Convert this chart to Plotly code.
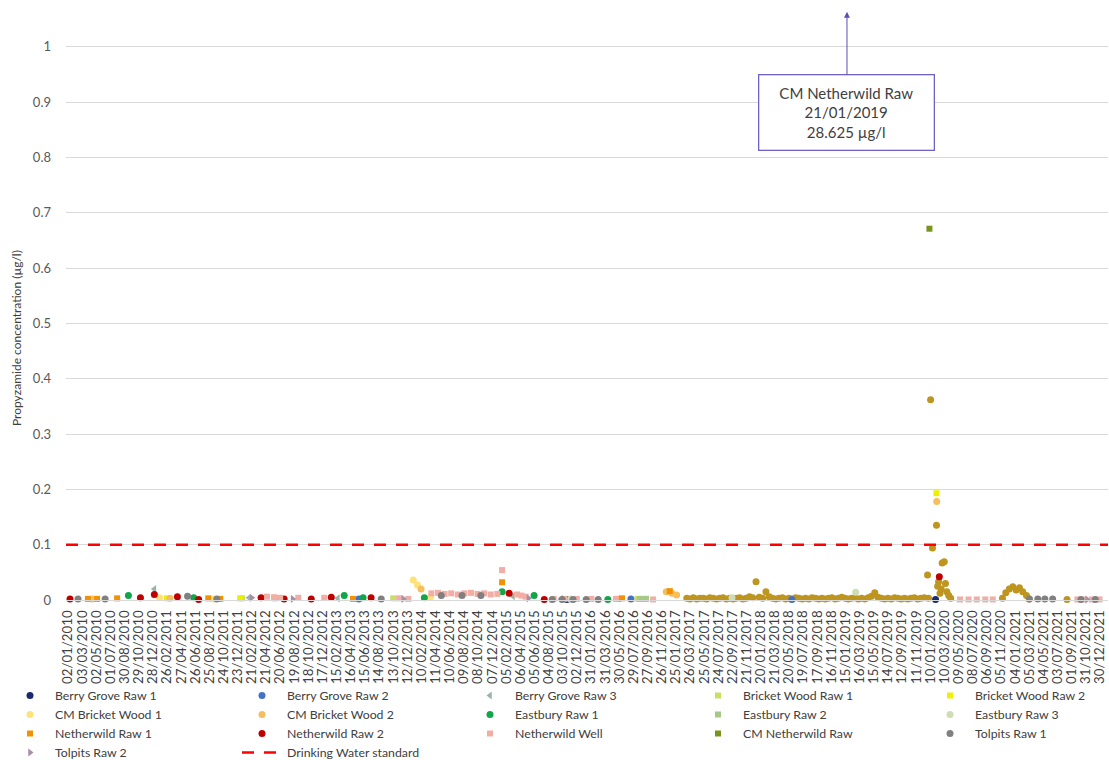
import pandas as pd
import plotly.graph_objects as go

# ---------------------------------------------------------------- axis setup
X_START = "2009-12-24"
X_END = "2022-02-02"
TICK0 = "2010-01-02"
TICK_STEP_DAYS = 60
Y_MAX = 1.05
Y_TICKS = [0, 0.1, 0.2, 0.3, 0.4, 0.5, 0.6, 0.7, 0.8, 0.9, 1]
Y_TICK_TEXT = ["0", "0.1", "0.2", "0.3", "0.4", "0.5", "0.6", "0.7", "0.8", "0.9", "1"]
Y_TITLE = "Propyzamide concentration (µg/l)"
STANDARD_LIMIT = 0.1  # µg/l

# ---------------------------------------------------------------- sample data (µg/l)
berry_grove_raw_1_dates = ["2015-10-20", "2020-02-01"]
berry_grove_raw_1_values = [0.001, 0.001]

berry_grove_raw_2_dates = ["2013-05-20", "2016-07-18", "2018-06-01"]
berry_grove_raw_2_values = [0.002, 0.002, 0.001]

berry_grove_raw_3_dates = ["2011-01-03", "2012-02-09", "2013-02-20", "2015-03-05", "2015-09-25"]
berry_grove_raw_3_values = [0.020, 0.004, 0.003, 0.007, 0.002]

bricket_wood_raw_1_dates = ["2012-01-10", "2013-10-13", "2016-08-15", "2016-09-07"]
bricket_wood_raw_1_values = [0.003, 0.003, 0.002, 0.002]

bricket_wood_raw_2_dates = ["2011-02-25", "2012-01-02", "2020-02-05"]
bricket_wood_raw_2_values = [0.003, 0.003, 0.193]

cm_bricket_wood_1_dates = ["2011-01-25", "2011-09-10", "2014-01-06", "2014-01-24", "2014-03-20"]
cm_bricket_wood_1_values = [0.004, 0.002, 0.036, 0.027, 0.005]

cm_bricket_wood_2_dates = ["2010-04-15", "2011-03-10", "2014-02-08", "2016-12-15",
                           "2017-01-08", "2017-01-28", "2020-02-06"]
cm_bricket_wood_2_values = [0.002, 0.003, 0.020, 0.015, 0.012, 0.009, 0.178]

eastbury_raw_1_dates = ["2010-09-15", "2011-06-19", "2013-03-19", "2013-06-07",
                        "2014-02-22", "2015-01-18", "2015-06-03", "2016-04-11"]
eastbury_raw_1_values = [0.008, 0.004, 0.008, 0.004, 0.004, 0.015, 0.008, 0.001]

eastbury_raw_2_dates = ["2012-05-30", "2016-08-25", "2016-09-20"]
eastbury_raw_2_values = [0.003, 0.002, 0.002]

eastbury_raw_3_dates = ["2015-11-05", "2017-09-20", "2019-02-27"]
eastbury_raw_3_values = [0.002, 0.004, 0.014]

netherwild_raw_1_dates = ["2010-03-27", "2010-05-05", "2010-07-29", "2011-08-20", "2011-10-10",
                          "2013-04-25", "2015-01-18", "2016-05-25", "2016-06-10", "2016-12-30"]
netherwild_raw_1_values = [0.002, 0.002, 0.003, 0.003, 0.002, 0.002, 0.032, 0.002, 0.003, 0.016]

netherwild_raw_2_dates = ["2010-01-10", "2010-11-05", "2011-01-03", "2011-04-11", "2011-07-10",
                          "2012-03-31", "2012-07-07", "2012-10-30", "2013-01-23", "2013-07-11",
                          "2015-02-17", "2015-07-16", "2020-02-17"]
netherwild_raw_2_values = [0.002, 0.004, 0.010, 0.006, 0.001, 0.004, 0.002, 0.002, 0.005, 0.004,
                           0.012, 0.001, 0.042]

netherwild_well_dates = ["2012-04-25", "2012-05-25", "2012-06-20", "2012-09-05", "2012-12-24",
                         "2013-11-07", "2013-12-16", "2014-03-24", "2014-04-21", "2014-05-19",
                         "2014-06-16", "2014-07-14", "2014-08-11", "2014-09-08", "2014-10-06",
                         "2014-11-03", "2014-12-01", "2014-12-29", "2015-01-18", "2015-03-23",
                         "2015-04-10", "2015-04-28", "2015-08-25", "2015-10-10", "2015-12-01",
                         "2016-02-01", "2016-05-15", "2016-10-20", "2020-05-15", "2020-06-20",
                         "2020-07-25", "2020-08-30", "2020-10-01", "2021-09-25", "2021-10-25",
                         "2021-11-25", "2021-12-28"]
netherwild_well_values = [0.006, 0.005, 0.004, 0.004, 0.004,
                          0.003, 0.002, 0.012, 0.013, 0.011,
                          0.012, 0.010, 0.012, 0.013, 0.011,
                          0.012, 0.010, 0.011, 0.054, 0.010,
                          0.008, 0.006, 0.002, 0.002, 0.002,
                          0.002, 0.002, 0.001, 0.001, 0.001,
                          0.001, 0.001, 0.001, 0.001, 0.001,
                          0.001, 0.001]

cm_netherwild_raw_dates = ["2020-01-06"]
cm_netherwild_raw_values = [0.671]

# CM Netherwild Raw routine fortnightly sampling, then additional samples
cm_netherwild_routine_start = "2017-03-12"
cm_netherwild_routine_values = [
    0.003, 0.002, 0.004, 0.002, 0.003, 0.003, 0.002, 0.004, 0.003, 0.002,
    0.003, 0.004, 0.002, 0.003, 0.002, 0.003, 0.004, 0.002, 0.003, 0.006,
    0.004, 0.033, 0.005, 0.003, 0.015, 0.006, 0.003, 0.002, 0.003, 0.004,
    0.002, 0.003, 0.002, 0.004, 0.003, 0.002, 0.003, 0.002, 0.004, 0.003,
    0.002, 0.003, 0.002, 0.003, 0.004, 0.002, 0.003, 0.005, 0.003, 0.002,
    0.003, 0.004, 0.002, 0.003, 0.002, 0.004, 0.007, 0.013, 0.005, 0.003,
    0.002, 0.003, 0.002, 0.004, 0.003, 0.002, 0.003, 0.002, 0.003, 0.004,
    0.002, 0.003, 0.004]
cm_netherwild_extra_dates = ["2019-12-29", "2020-01-02", "2020-01-11", "2020-01-19", "2020-02-05",
                             "2020-02-10", "2020-02-14", "2020-02-20", "2020-02-25", "2020-02-29",
                             "2020-03-09", "2020-03-14", "2020-03-20", "2020-03-28", "2020-04-05",
                             "2020-11-11", "2020-11-25", "2020-12-10", "2020-12-25", "2021-01-08",
                             "2021-01-22", "2021-02-05", "2021-02-21", "2021-03-05", "2021-08-12"]
cm_netherwild_extra_values = [0.045, 0.003, 0.362, 0.094, 0.135,
                              0.025, 0.033, 0.012, 0.020, 0.067,
                              0.069, 0.030, 0.015, 0.008, 0.003,
                              0.003, 0.013, 0.020, 0.024, 0.018,
                              0.022, 0.015, 0.008, 0.002, 0.001]

tolpits_raw_1_dates = ["2010-02-13", "2010-06-08", "2011-05-24", "2011-09-25", "2013-08-23",
                       "2014-05-05", "2014-08-01", "2014-10-20", "2015-08-19", "2015-09-30",
                       "2015-11-15", "2016-01-10", "2016-03-01", "2021-03-05", "2021-04-10",
                       "2021-05-10", "2021-06-12", "2021-10-10", "2021-12-10"]
tolpits_raw_1_values = [0.002, 0.002, 0.007, 0.002, 0.002,
                        0.008, 0.008, 0.008, 0.001, 0.001,
                        0.001, 0.001, 0.001, 0.002, 0.002,
                        0.002, 0.002, 0.001, 0.001]

tolpits_raw_2_dates = ["2012-02-20", "2012-08-12", "2013-11-25", "2015-05-10", "2021-11-05"]
tolpits_raw_2_values = [0.004, 0.002, 0.002, 0.003, 0.001]

# off-scale result called out in the text box
off_scale_site = "CM Netherwild Raw"
off_scale_date = "2019-01-21"
off_scale_value = 28.625

# ---------------------------------------------------------------- styling
FONT = "Lato"
TEXT = "#404040"
AXIS_TEXT = "#595959"
GRID = "#D9D9D9"

routine_dates = pd.date_range(cm_netherwild_routine_start,
                              periods=len(cm_netherwild_routine_values), freq="14D")
band_dates = list(routine_dates.strftime("%Y-%m-%d")) + cm_netherwild_extra_dates
band_values = cm_netherwild_routine_values + cm_netherwild_extra_values

# name, dates, values, colour, symbol, marker size, legend column
series = [
    ("Berry Grove Raw 1", berry_grove_raw_1_dates, berry_grove_raw_1_values, "#1B2A6B", "circle", 7, "legend"),
    ("Berry Grove Raw 2", berry_grove_raw_2_dates, berry_grove_raw_2_values, "#4472C4", "circle", 7, "legend2"),
    ("Berry Grove Raw 3", berry_grove_raw_3_dates, berry_grove_raw_3_values, "#98B4A6", "triangle-left", 7, "legend3"),
    ("Bricket Wood Raw 1", bricket_wood_raw_1_dates, bricket_wood_raw_1_values, "#C8E05E", "square", 6, "legend4"),
    ("Bricket Wood Raw 2", bricket_wood_raw_2_dates, bricket_wood_raw_2_values, "#EEF000", "square", 6, "legend5"),
    ("CM Bricket Wood 1", cm_bricket_wood_1_dates, cm_bricket_wood_1_values, "#FFE27A", "circle", 7, "legend"),
    ("CM Bricket Wood 2", cm_bricket_wood_2_dates, cm_bricket_wood_2_values, "#F7BE5E", "circle", 7, "legend2"),
    ("Eastbury Raw 1", eastbury_raw_1_dates, eastbury_raw_1_values, "#12A64B", "circle", 7, "legend3"),
    ("Eastbury Raw 2", eastbury_raw_2_dates, eastbury_raw_2_values, "#A6C98A", "square", 6, "legend4"),
    ("Eastbury Raw 3", eastbury_raw_3_dates, eastbury_raw_3_values, "#CFDDB5", "circle", 7, "legend5"),
    ("Netherwild Raw 1", netherwild_raw_1_dates, netherwild_raw_1_values, "#F39200", "square", 6, "legend"),
    ("Netherwild Raw 2", netherwild_raw_2_dates, netherwild_raw_2_values, "#C00000", "circle", 7, "legend2"),
    ("Netherwild Well", netherwild_well_dates, netherwild_well_values, "#F2ADA4", "square", 6, "legend3"),
    ("CM Netherwild Raw", cm_netherwild_raw_dates, cm_netherwild_raw_values, "#76951A", "square", 6, "legend4"),
    ("Tolpits Raw 1", tolpits_raw_1_dates, tolpits_raw_1_values, "#808080", "circle", 7, "legend5"),
    ("Tolpits Raw 2", tolpits_raw_2_dates, tolpits_raw_2_values, "#A590A8", "triangle-right", 7, "legend"),
]

fig = go.Figure()

# routine CM Netherwild Raw results sit underneath the other sites
fig.add_trace(go.Scatter(
    x=band_dates, y=band_values, mode="markers", name="CM Netherwild Raw",
    marker=dict(color="#BE951E", size=7, symbol="circle"),
    showlegend=False, cliponaxis=False,
))

for name, dates, values, colour, symbol, size, legend in series:
    fig.add_trace(go.Scatter(
        x=dates, y=values, mode="markers", name=name,
        marker=dict(color=colour, size=size, symbol=symbol),
        legend=legend, cliponaxis=False,
    ))

fig.add_trace(go.Scatter(
    x=[X_START, X_END], y=[STANDARD_LIMIT, STANDARD_LIMIT], mode="lines",
    name="Drinking Water standard",
    line=dict(color="#FF0000", width=2.5, dash="12px,10px"),
    legend="legend2", cliponaxis=False,
))

# call-out for the off-scale result
fig.add_annotation(
    x=off_scale_date, xref="x", y=1.0125, yref="paper",
    text=f"{off_scale_site}<br>{pd.Timestamp(off_scale_date):%d/%m/%Y}<br>{off_scale_value} µg/l",
    showarrow=True, ax=0, ay=101, arrowhead=2, arrowsize=1.2, arrowwidth=1,
    arrowcolor="#5A4FB8", standoff=0,
    bordercolor="#6F62C6", borderwidth=1.3, borderpad=4, bgcolor="white",
    width=166, height=66, align="center", valign="middle",
    font=dict(family=FONT, size=15, color=TEXT),
)

# vertical axis title, set in the left margin
fig.add_annotation(
    text=Y_TITLE, textangle=-90, showarrow=False,
    xref="paper", x=-49 / 1042, xanchor="center",
    yref="paper", y=0.451, yanchor="middle",
    font=dict(family=FONT, size=12, color=TEXT),
)

legend_common = dict(
    orientation="v", xref="container", yref="container", xanchor="left", yanchor="top",
    y=1 - 681 / 760, bgcolor="rgba(0,0,0,0)", itemwidth=40,
    font=dict(family=FONT, size=12.3, color=TEXT), tracegroupgap=0,
)
legend_left = {"legend": 5, "legend2": 237, "legend3": 465, "legend4": 693, "legend5": 925}

fig.update_layout(
    width=1109, height=760,
    margin=dict(l=66, r=1, t=19, b=160, autoexpand=False),
    paper_bgcolor="white", plot_bgcolor="white",
    font=dict(family=FONT, color=TEXT),
    xaxis=dict(
        type="date", range=[X_START, X_END], tickmode="linear",
        tick0=TICK0, dtick=TICK_STEP_DAYS * 86400000, tickformat="%d/%m/%Y",
        tickangle=-90, showgrid=False, showline=True, linecolor=GRID,
        zeroline=False, ticks="", ticklabelstandoff=4, automargin=False,
        tickfont=dict(family=FONT, size=13.3, color=TEXT),
    ),
    yaxis=dict(
        range=[0, Y_MAX], tickmode="array", tickvals=Y_TICKS, ticktext=Y_TICK_TEXT,
        showgrid=True, gridcolor=GRID, gridwidth=1, zeroline=False, showline=False,
        ticks="", ticklabelstandoff=14, automargin=False,
        tickfont=dict(family=FONT, size=13, color=AXIS_TEXT),
    ),
    **{k: dict(legend_common, x=v / 1109) for k, v in legend_left.items()},
)

fig.write_html("out.html")
